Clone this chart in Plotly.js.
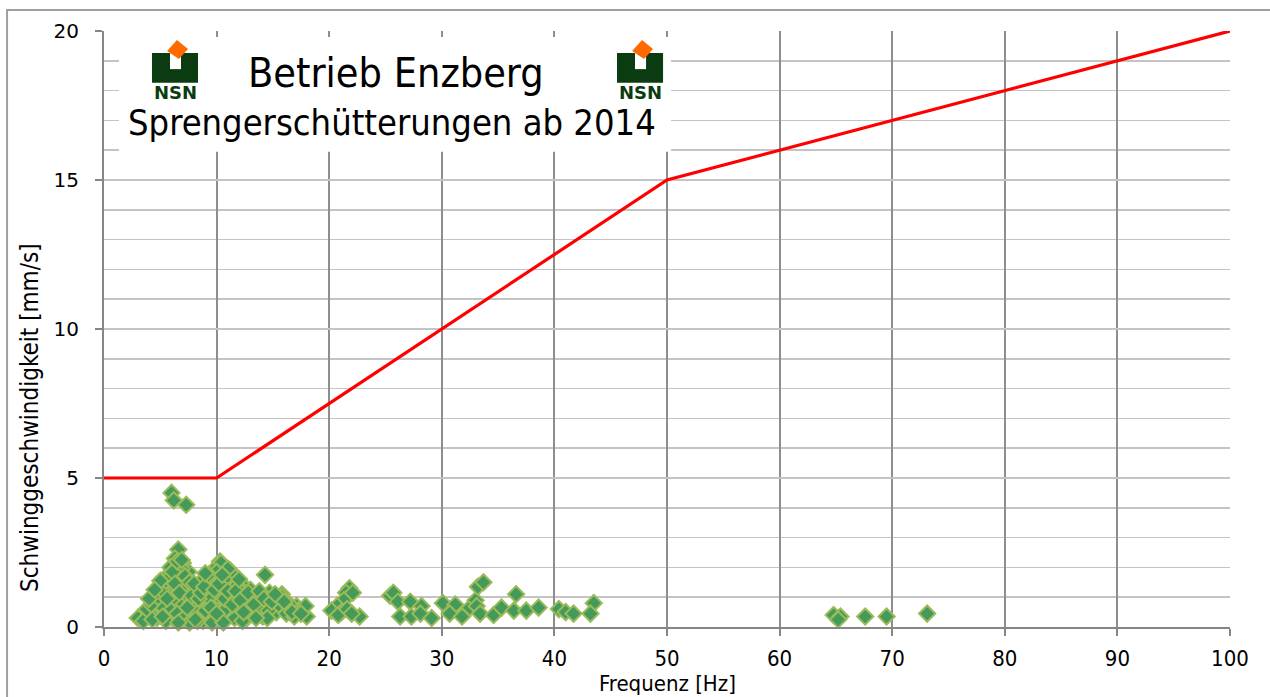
<!DOCTYPE html>
<html>
<head>
<meta charset="utf-8">
<script src="https://cdn.plot.ly/plotly-3.0.1.min.js"></script>
<style>html,body{margin:0;padding:0;background:#fff;}#chart{width:1270px;height:697px;}</style>
</head>
<body>
<div id="chart"></div>
<script>
// Measured blasting vibrations: frequency [Hz] and vibration velocity [mm/s]
const freqHz = [
  6.0, 6.2, 7.3,
  6.6, 6.3, 7.0, 5.7, 7.5, 10.3, 10.4, 9.7, 11.2, 9.1, 11.8, 8.5, 5.3, 6.6, 7.3, 5.0, 9.4,
  10.6, 8.2, 12.5, 13.1, 4.4, 5.6, 6.7, 9.7, 10.9, 11.9, 3.6, 5.3, 7.3, 7.9, 9.4, 11.2,
  3.2, 6.2, 8.8, 10.3, 12.7, 4.7, 5.3, 7.0, 11.3, 9.4, 10.4, 11.8, 13.0, 14.3, 12.7, 13.6,
  15.8, 15.0, 17.1, 18.0, 3.2, 4.7, 8.2, 11.8, 7.9, 13.6, 14.1, 14.7, 15.3, 16.5, 17.3, 17.9,
  15.8, 6.4, 6.9, 6.1, 6.8, 7.2, 5.9, 6.4, 6.0, 6.9, 5.8, 6.5, 7.1, 5.5, 4.9, 4.1, 3.9, 4.5,
  5.0, 8.6, 8.0, 8.9, 9.9, 10.1, 10.7, 10.8, 11.5, 11.6, 12.2, 12.0, 12.9, 13.4, 13.9, 14.6,
  8.3, 9.6, 10.6, 7.6, 6.6, 12.3, 11.0, 10.0, 9.2, 8.7, 7.7, 14.5, 15.5, 16.2, 16.9,
  3.0, 3.5, 3.8, 4.2, 4.3, 4.8, 5.1, 5.2, 5.5, 5.6, 5.9, 6.1, 6.3, 6.5, 6.7, 6.9, 7.2, 7.4,
  7.6, 7.8, 8.0, 8.1, 8.4, 8.6, 8.9, 9.0, 9.3, 9.5, 9.8, 10.0, 10.2, 10.5, 10.7, 11.0, 11.4,
  11.7, 12.0, 12.1, 12.4, 12.8, 13.3, 13.5, 13.8, 14.2, 14.9, 15.2, 16.0, 16.7, 17.5, 9.0,
  4.0, 5.0, 4.5,
  21.8, 21.5, 21.3, 20.7, 20.2, 21.1, 22.7, 20.8, 22.1, 21.6, 22.0,
  25.4, 25.7, 26.1, 27.2, 26.3, 27.3, 28.2, 28.1, 29.1, 30.1, 31.2, 30.7, 31.8, 32.5, 33.0,
  33.2, 33.7, 33.1, 33.4, 34.6, 35.3, 36.6, 36.4, 37.5, 38.6, 40.4, 41.0, 41.7, 43.5, 43.2,
  64.8, 65.4, 65.2, 67.6, 69.5, 73.1
];
const velocityMmS = [
  4.5, 4.25, 4.1,
  2.6, 2.3, 2.15, 1.75, 1.85, 2.2, 2.15, 1.9, 1.9, 1.65, 1.45, 1.4, 1.4, 1.35, 1.2, 1.05, 1.25,
  1.35, 1.0, 1.35, 0.95, 0.8, 0.85, 0.85, 0.8, 0.85, 0.75, 0.5, 0.55, 0.5, 0.4, 0.45, 0.5,
  0.3, 0.25, 0.2, 0.25, 0.3, 0.3, 1.05, 0.95, 1.8, 1.4, 1.2, 1.4, 1.25, 1.75, 0.9, 0.55,
  1.1, 0.55, 0.7, 0.35, 0.35, 0.65, 0.45, 0.5, 1.25, 0.9, 0.35, 1.15, 0.5, 0.75, 0.55, 0.7,
  1.0, 2.0, 1.95, 1.6, 1.6, 1.45, 1.3, 1.1, 0.9, 0.7, 0.6, 0.45, 0.3, 0.2, 0.5, 0.45, 0.35, 0.9,
  0.75, 0.75, 0.65, 1.05, 1.6, 1.05, 1.6, 0.6, 1.1, 0.3, 1.15, 0.65, 0.55, 1.05, 0.7, 0.55,
  0.2, 0.15, 0.15, 0.15, 0.15, 0.2, 1.95, 1.85, 0.95, 1.55, 0.8, 0.3, 0.75, 0.45, 0.35,
  0.3, 0.2, 0.6, 0.75, 0.25, 1.0, 1.25, 0.35, 1.55, 0.95, 2.0, 1.85, 1.45, 2.2, 1.15, 2.25, 1.7, 0.65,
  1.5, 1.05, 1.45, 0.25, 0.95, 1.15, 1.35, 0.55, 1.75, 0.65, 1.25, 0.45, 1.45, 1.75, 0.95, 1.2, 0.75,
  1.2, 1.6, 0.9, 0.5, 1.15, 0.75, 0.3, 1.2, 0.95, 0.85, 1.1, 0.85, 0.5, 0.45, 1.8,
  0.95, 1.55, 1.25,
  1.3, 1.15, 0.9, 0.7, 0.55, 0.5, 0.35, 0.4, 1.15, 0.6, 0.45,
  1.05, 1.15, 0.85, 0.85, 0.35, 0.35, 0.7, 0.45, 0.3, 0.8, 0.75, 0.45, 0.35, 0.65, 0.9,
  1.35, 1.5, 0.7, 0.45, 0.4, 0.65, 1.1, 0.55, 0.55, 0.65, 0.6, 0.5, 0.45, 0.8, 0.45,
  0.4, 0.35, 0.25, 0.35, 0.35, 0.45
];
// Limit curve
const limitFreqHz = [0, 10, 50, 100];
const limitVelMmS = [5, 5, 15, 20];
// Tick labels
const xTickVals = [0, 10, 20, 30, 40, 50, 60, 70, 80, 90, 100];
const yTickVals = [0, 5, 10, 15, 20];

const titleLine1 = 'Betrieb Enzberg';
const titleLine2 = 'Sprengerschütterungen ab 2014';
const logoText = 'NSN';
const xTitle = 'Frequenz [Hz]';
const yTitle = 'Schwinggeschwindigkeit [mm/s]';

const condensed = 'DejaVu Sans Condensed, DejaVu Sans, sans-serif';
const logoGreen = '#0b3b10';
const logoOrange = '#ff6a00';

function logoShapes(dx) {
  return [
    {type:'rect', xref:'x', yref:'y', layer:'above', x0:4.26+dx, x1:8.35+dx, y0:18.26, y1:19.26,
     fillcolor:logoGreen, line:{width:0}},
    {type:'rect', xref:'x', yref:'y', layer:'above', x0:5.86+dx, x1:6.84+dx, y0:18.72, y1:19.27,
     fillcolor:'#ffffff', line:{width:0}},
    {type:'path', xref:'x', yref:'y', layer:'above',
     path:`M ${6.48+dx} 19.70 L ${7.46+dx} 19.40 L ${6.66+dx} 19.06 L ${5.60+dx} 19.33 Z`,
     fillcolor:logoOrange, line:{width:0}}
  ];
}

const traces = [
  {
    x: freqHz, y: velocityMmS, type:'scatter', mode:'markers',
    marker:{symbol:'diamond', size:12.5, color:'#449a5b', line:{color:'#9bbb59', width:2}},
    hoverinfo:'skip', showlegend:false, cliponaxis:false
  },
  {
    x: limitFreqHz, y: limitVelMmS, type:'scatter', mode:'lines',
    line:{color:'#ff0000', width:3.2}, hoverinfo:'skip', showlegend:false, cliponaxis:false
  }
];

const layout = {
  width:1270, height:697,
  margin:{l:104, r:40, t:31, b:70},
  paper_bgcolor:'#ffffff', plot_bgcolor:'#ffffff',
  showlegend:false,
  xaxis:{
    range:[0,100], tickvals:xTickVals, ticktext:xTickVals.map(String),
    showgrid:true, gridcolor:'#8e8e8e', gridwidth:2,
    showline:true, linecolor:'#868686', linewidth:2,
    ticks:'outside', ticklen:7, tickwidth:2, tickcolor:'#868686',
    tickfont:{family:condensed, size:22, color:'#000'},
    ticklabelstandoff:4, zeroline:false, fixedrange:true
  },
  yaxis:{
    range:[0,20], tickvals:yTickVals, ticktext:yTickVals.map(String),
    showgrid:true, gridcolor:'#c4c4c4', gridwidth:1.5,
    minor:{dtick:1, showgrid:true, gridcolor:'#c4c4c4', gridwidth:1.5, ticks:''},
    showline:true, linecolor:'#868686', linewidth:2,
    ticks:'outside', ticklen:7, tickwidth:2, tickcolor:'#868686',
    tickfont:{family:'DejaVu Sans, sans-serif', size:20, color:'#000'},
    ticklabelstandoff:12, zeroline:false, fixedrange:true
  },
  shapes:[
    {type:'rect', xref:'paper', yref:'paper', x0:-0.0861, x1:1.06, y0:-0.2, y1:1.0352,
     line:{color:'#9f9f9f', width:2}, fillcolor:'rgba(0,0,0,0)', layer:'above'},
    {type:'rect', xref:'x', yref:'y', x0:1.33, x1:50.36, y0:15.95, y1:19.8,
     fillcolor:'#ffffff', line:{width:0}, layer:'above'}
  ].concat(logoShapes(0), logoShapes(41.3)),
  annotations:[
    {text:titleLine1, xref:'x', yref:'y', x:25.9, y:18.6, showarrow:false,
     xanchor:'center', yanchor:'middle', font:{family:condensed, size:41, color:'#000'}},
    {text:titleLine2, xref:'x', yref:'y', x:25.6, y:16.93, showarrow:false,
     xanchor:'center', yanchor:'middle', font:{family:condensed, size:36, color:'#000'}},
    {text:logoText, xref:'x', yref:'y', x:6.31, y:17.94, showarrow:false,
     xanchor:'center', yanchor:'middle', font:{family:'DejaVu Sans, sans-serif', size:18, color:logoGreen, weight:'bold'}},
    {text:logoText, xref:'x', yref:'y', x:47.61, y:17.94, showarrow:false,
     xanchor:'center', yanchor:'middle', font:{family:'DejaVu Sans, sans-serif', size:18, color:logoGreen, weight:'bold'}},
    {text:xTitle, xref:'paper', yref:'paper', x:0.5, y:-0.0956, showarrow:false,
     xanchor:'center', yanchor:'middle', font:{family:condensed, size:22, color:'#000'}},
    {text:yTitle, xref:'paper', yref:'paper', x:-0.0657, y:0.3507, showarrow:false, textangle:-90,
     xanchor:'center', yanchor:'middle', font:{family:condensed, size:24, color:'#000'}}
  ]
};

Plotly.newPlot('chart', traces, layout, {staticPlot:true, displayModeBar:false});
</script>
</body>
</html>
